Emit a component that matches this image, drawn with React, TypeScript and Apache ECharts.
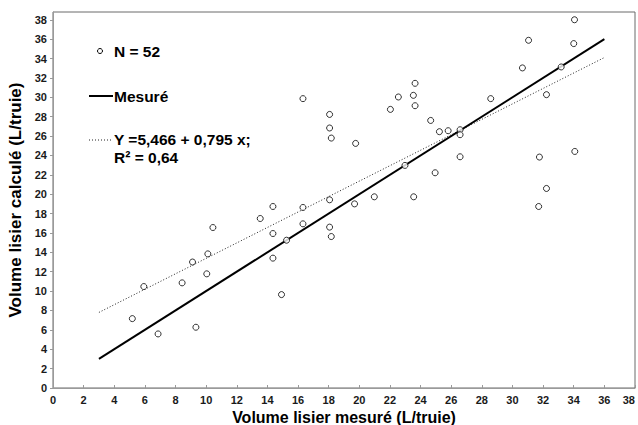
import React, { useEffect, useRef } from "react";
import * as echarts from "echarts";

const measured: number[] = [
  5.18, 5.93, 6.86, 8.43, 9.11, 9.33, 10.04, 10.11, 10.44, 13.53, 14.36, 14.36, 14.36,
  14.92, 15.25, 16.32, 16.32, 34.05, 31.05, 34.0, 30.65, 33.18, 16.32, 23.64, 22.55,
  23.53, 23.64, 22.03, 18.06, 18.06, 18.17, 19.76, 24.66, 25.23, 25.8, 26.58, 26.58,
  28.58, 32.22, 31.76, 34.07, 26.58, 24.95, 22.98, 32.22, 31.71, 18.06, 19.69, 20.98,
  23.55, 18.06, 18.17,
];
const calculated: number[] = [
  7.16, 10.47, 5.58, 10.85, 13.0, 6.27, 11.78, 13.84, 16.56, 17.49, 18.73, 15.94, 13.4,
  9.64, 15.25, 18.63, 16.94, 38.0, 35.88, 35.54, 33.03, 33.13, 29.86, 31.44, 30.03,
  30.2, 29.13, 28.75, 28.23, 26.83, 25.79, 25.24, 27.61, 26.45, 26.55, 26.65, 26.14,
  29.86, 30.27, 23.83, 24.41, 23.86, 22.21, 22.97, 20.59, 18.73, 19.42, 19.0, 19.73,
  19.73, 16.6, 15.63,
];
const identityX: number[] = [3, 36];
const identityY: number[] = [3, 36];
const regressionX: number[] = [3, 36];
const regressionY: number[] = [7.8, 34.1];

const xTitle = "Volume lisier mesuré (L/truie)";
const yTitle = "Volume lisier calculé (L/truie)";
const legendN = "N = 52";
const legendMeasured = "Mesuré";
const legendEq = "Y =5,466 + 0,795 x;";
const legendR2 = "R² = 0,64";

export default function App() {
  const ref = useRef<HTMLDivElement>(null);
  useEffect(() => {
    if (!ref.current) return;
    const chart = echarts.init(ref.current, undefined, { renderer: "svg" });
    const font = "Liberation Sans, Arial, sans-serif";
    const pts = measured.map((x, i) => [x, calculated[i]]);
    const legendText = {
      fontFamily: font,
      fontSize: 15.5,
      fontWeight: "bold",
      fill: "#000",
    };
    chart.setOption({
      animation: false,
      backgroundColor: "#fff",
      grid: {
        left: 53,
        right: 3,
        top: 12,
        bottom: 37,
        show: true,
        borderColor: "#6a6a6a",
        borderWidth: 1,
        containLabel: false,
        outerBoundsMode: "none",
      },
      xAxis: {
        type: "value",
        min: 0,
        max: 38,
        interval: 2,
        name: xTitle,
        nameLocation: "middle",
        nameGap: 11,
        nameTextStyle: { fontFamily: font, fontSize: 16, fontWeight: "bold", color: "#000", lineHeight: 16 },
        axisLine: { show: true, lineStyle: { color: "#9a9a9a", width: 1 } },
        axisTick: { show: true, inside: true, length: 3, lineStyle: { color: "#9a9a9a" } },
        axisLabel: {
          fontFamily: font,
          fontSize: 11,
          fontWeight: "bold",
          color: "#1a1a1a",
          margin: 6,
          alignMaxLabel: "right",
        },
        splitLine: { show: false },
      },
      yAxis: {
        type: "value",
        min: 0,
        max: 38.8,
        interval: 2,
        name: yTitle,
        nameLocation: "middle",
        nameGap: 27,
        nameRotate: 90,
        nameTextStyle: { fontFamily: font, fontSize: 17, fontWeight: "bold", color: "#000" },
        axisLine: { show: true, lineStyle: { color: "#9a9a9a", width: 1 } },
        axisTick: { show: true, inside: false, length: 3, lineStyle: { color: "#9a9a9a" } },
        axisLabel: {
          fontFamily: font,
          fontSize: 11,
          fontWeight: "bold",
          color: "#1a1a1a",
          margin: 6,
          showMaxLabel: false,
          formatter: (v: number) => (Number.isInteger(v) ? String(v) : ""),
        },
        splitLine: { show: false },
      },
      series: [
        {
          type: "line",
          data: regressionX.map((x, i) => [x, regressionY[i]]),
          symbol: "none",
          lineStyle: { color: "#222", width: 1, type: [1, 2] },
          z: 2,
        },
        {
          type: "line",
          data: identityX.map((x, i) => [x, identityY[i]]),
          symbol: "none",
          lineStyle: { color: "#000", width: 2 },
          z: 3,
        },
        {
          type: "scatter",
          data: pts,
          symbol: "circle",
          symbolSize: 6,
          itemStyle: { color: "#fff", borderColor: "#000", borderWidth: 1 },
          z: 4,
        },
      ],
      graphic: [
        {
          type: "circle",
          shape: { cx: 100, cy: 51, r: 2.5 },
          style: { fill: "#fff", stroke: "#000", lineWidth: 1 },
        },
        { type: "text", x: 114, y: 51, style: { ...legendText, text: legendN, verticalAlign: "middle" } },
        {
          type: "line",
          shape: { x1: 89, y1: 96, x2: 113, y2: 96 },
          style: { stroke: "#000", lineWidth: 2 },
        },
        { type: "text", x: 114, y: 96, style: { ...legendText, text: legendMeasured, verticalAlign: "middle" } },
        {
          type: "line",
          shape: { x1: 89, y1: 140, x2: 112, y2: 140 },
          style: { stroke: "#222", lineWidth: 1, lineDash: [1, 2] },
        },
        { type: "text", x: 114, y: 139, style: { ...legendText, text: legendEq, verticalAlign: "middle" } },
        { type: "text", x: 114, y: 157, style: { ...legendText, text: legendR2, verticalAlign: "middle" } },
      ],
    });
    return () => chart.dispose();
  }, []);
  return <div ref={ref} style={{ width: 638, height: 425, position: "absolute", left: 0, top: 0 }} />;
}
